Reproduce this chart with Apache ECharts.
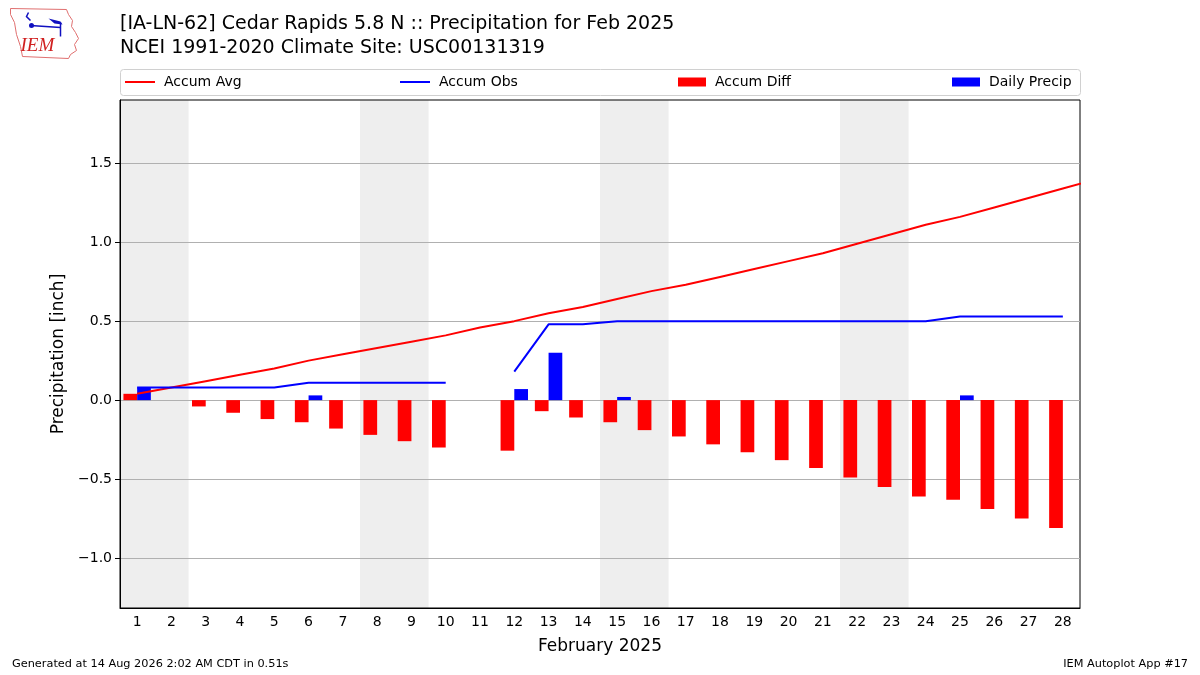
<!DOCTYPE html>
<html>
<head>
<meta charset="utf-8">
<script src="https://cdn.jsdelivr.net/npm/echarts@6/dist/echarts.min.js"></script>
<style>
  html, body { margin: 0; padding: 0; background: #fff; }
  #chart { width: 1200px; height: 675px; }
</style>
</head>
<body>
<div id="chart"></div>
<script>
// ----------------------------------------------------------------------------
// Data
// ----------------------------------------------------------------------------
var days = [1, 2, 3, 4, 5, 6, 7, 8, 9, 10, 11, 12, 13, 14, 15, 16, 17, 18, 19, 20, 21, 22, 23, 24, 25, 26, 27, 28];
// climatology keeps going into Mar 1, the plot clips it at the right edge
var avgDays = days.concat([29]);
var accumAvg = [0.04, 0.08, 0.12, 0.16, 0.20, 0.25, 0.29, 0.33, 0.37, 0.41, 0.46, 0.50, 0.55, 0.59,
                0.64, 0.69, 0.73, 0.78, 0.83, 0.88, 0.93, 0.99, 1.05, 1.11, 1.16, 1.22, 1.28, 1.34, 1.40];
var accumObs = [0.08, 0.08, 0.08, 0.08, 0.08, 0.11, 0.11, 0.11, 0.11, 0.11, null, 0.18, 0.48, 0.48,
                0.50, 0.50, 0.50, 0.50, 0.50, 0.50, 0.50, 0.50, 0.50, 0.50, 0.53, 0.53, 0.53, 0.53];
var accumDiff = [0.04, 0.00, -0.04, -0.08, -0.12, -0.14, -0.18, -0.22, -0.26, -0.30, null, -0.32, -0.07, -0.11,
                 -0.14, -0.19, -0.23, -0.28, -0.33, -0.38, -0.43, -0.49, -0.55, -0.61, -0.63, -0.69, -0.75, -0.81];
var dailyPrecip = [0.08, 0, 0, 0, 0, 0.03, 0, 0, 0, 0, null, 0.07, 0.30, 0, 0.02, 0, 0, 0, 0, 0, 0, 0, 0, 0, 0.03, 0, 0, 0];
// Saturdays, each weekend shaded through Sunday
var weekendStarts = [1, 8, 15, 22];
var yTicks = [-1.0, -0.5, 0.0, 0.5, 1.0, 1.5];

var FONT = 'DejaVu Sans';

function pairs(xs, ys) {
    return xs.map(function(x, i) { return [x, ys[i]]; });
}

var chart = echarts.init(document.getElementById('chart'), null, { renderer: 'canvas' });

var weekendAreas = weekendStarts.map(function(d) {
    return [{ xAxis: d - 0.5 }, { xAxis: d + 1.5 }];
});

// small Iowa shaped IEM logo, top left
var logo = {
    type: 'group',
    left: 8, top: 6,
    children: [
        { type: 'polyline', shape: { points: [[2, 2], [58, 3], [60, 8], [64, 14], [63, 20], [67, 26], [70, 32], [66, 38], [68, 44], [62, 48], [60, 52], [14, 50], [12, 40], [8, 28], [6, 16], [2, 8], [2, 2]] },
          style: { stroke: '#e07070', lineWidth: 1, fill: null } },
        { type: 'polyline', shape: { points: [[20, 6], [18, 10], [22, 14]] }, style: { stroke: '#1010c0', lineWidth: 1.5, fill: null } },
        { type: 'line', shape: { x1: 22, y1: 19, x2: 52, y2: 21 }, style: { stroke: '#1010c0', lineWidth: 1.5 } },
        { type: 'circle', shape: { cx: 23, cy: 19, r: 2.5 }, style: { fill: '#1010c0' } },
        { type: 'polygon', shape: { points: [[40, 12], [52, 15], [54, 18], [46, 17]] }, style: { fill: '#1010c0' } },
        { type: 'line', shape: { x1: 52, y1: 16, x2: 52, y2: 30 }, style: { stroke: '#1010c0', lineWidth: 1.5 } },
        { type: 'text', style: { x: 12, y: 30, text: 'IEM', fill: '#d02020', font: 'italic 19px "Liberation Serif"' } }
    ]
};

function legendBlock(name, x, isLine, color) {
    return {
        data: [name],
        left: x, top: 75,
        padding: 0,
        itemWidth: isLine ? 30 : 28,
        itemHeight: isLine ? 2 : 9,
        itemGap: 10,
        icon: 'rect',
        itemStyle: { color: color },
        textStyle: { fontFamily: FONT, fontSize: 14, color: '#000', padding: [0, 0, 0, 4] },
        selectedMode: false
    };
}

var option = {
    animation: false,
    backgroundColor: '#fff',
    textStyle: { fontFamily: FONT },
    title: {
        text: '[IA-LN-62] Cedar Rapids 5.8 N :: Precipitation for Feb 2025\nNCEI 1991-2020 Climate Site: USC00131319',
        left: 120, top: 12,
        padding: 0,
        textStyle: { fontFamily: FONT, fontSize: 19, fontWeight: 'normal', color: '#000', lineHeight: 24 }
    },
    legend: [
        legendBlock('Accum Avg', 125, true, '#ff0000'),
        legendBlock('Accum Obs', 400, true, '#0000ff'),
        legendBlock('Accum Diff', 678, false, '#ff0000'),
        legendBlock('Daily Precip', 952, false, '#0000ff')
    ],
    grid: {
        left: 120, right: 120, top: 100, bottom: 67,
        show: true, borderColor: '#000', borderWidth: 1, backgroundColor: 'transparent'
    },
    xAxis: [{
        type: 'category',
        data: days.map(String),
        boundaryGap: true,
        z: 10,
        axisLine: { onZero: false, lineStyle: { color: '#000', width: 1 } },
        axisTick: { alignWithLabel: true, length: 5, lineStyle: { color: '#000' } },
        axisLabel: { color: '#000', fontSize: 14, margin: 7, interval: 0 },
        splitLine: { show: false },
        name: 'February 2025',
        nameLocation: 'middle',
        nameGap: 30,
        nameTextStyle: { fontSize: 17, color: '#000' }
    }, {
        type: 'value',
        min: 0.5, max: 28.5,
        show: false
    }],
    yAxis: {
        type: 'value',
        min: -1.316, max: 1.9,
        axisLine: { show: true, lineStyle: { color: '#000', width: 1 } },
        axisTick: { show: true, length: 5, lineStyle: { color: '#000' }, customValues: yTicks },
        axisLabel: {
            color: '#000', fontSize: 14, margin: 8,
            customValues: yTicks,
            formatter: function(v) { return v.toFixed(1).replace('-', '\u2212'); }
        },
        splitLine: { show: true, lineStyle: { color: '#b0b0b0', width: 1 } },
        name: 'Precipitation [inch]',
        nameLocation: 'middle',
        nameGap: 50,
        nameTextStyle: { fontSize: 17, color: '#000' }
    },
    series: [{
        // weekend shading only, kept under the grid lines
        name: 'weekends',
        type: 'line',
        xAxisIndex: 1,
        data: [],
        z: -1,
        silent: true,
        markArea: {
            silent: true,
            z: -1,
            itemStyle: { color: '#eeeeee' },
            data: weekendAreas
        }
    }, {
        name: 'Accum Diff',
        type: 'bar',
        xAxisIndex: 0,
        data: accumDiff,
        barWidth: '40%',
        barGap: '0%',
        itemStyle: { color: '#ff0000' },
        z: 2
    }, {
        name: 'Daily Precip',
        type: 'bar',
        xAxisIndex: 0,
        data: dailyPrecip,
        barWidth: '40%',
        barGap: '0%',
        itemStyle: { color: '#0000ff' },
        z: 2
    }, {
        name: 'Accum Avg',
        type: 'line',
        xAxisIndex: 1,
        data: pairs(avgDays, accumAvg),
        showSymbol: false,
        symbol: 'none',
        clip: true,
        lineStyle: { color: '#ff0000', width: 2 },
        itemStyle: { color: '#ff0000' },
        z: 3
    }, {
        name: 'Accum Obs',
        type: 'line',
        xAxisIndex: 1,
        data: pairs(days, accumObs),
        showSymbol: false,
        symbol: 'none',
        connectNulls: false,
        lineStyle: { color: '#0000ff', width: 2 },
        itemStyle: { color: '#0000ff' },
        z: 3
    }],
    graphic: [
        logo,
        { type: 'rect', left: 120, top: 69, shape: { width: 960, height: 26, r: 3 },
          style: { fill: 'rgba(255,255,255,0.8)', stroke: '#d0d0d0', lineWidth: 1 }, z: -10 },
        { type: 'text', left: 12, top: 659, style: { text: 'Generated at 14 Aug 2026 2:02 AM CDT in 0.51s', fill: '#000', font: '11.3px "DejaVu Sans"' } },
        { type: 'text', right: 12, top: 659, style: { text: 'IEM Autoplot App #17', fill: '#000', font: '11.3px "DejaVu Sans"' } }
    ]
};

chart.setOption(option);

window.addEventListener('resize', function() {
    chart.resize();
});
</script>
</body>
</html>
